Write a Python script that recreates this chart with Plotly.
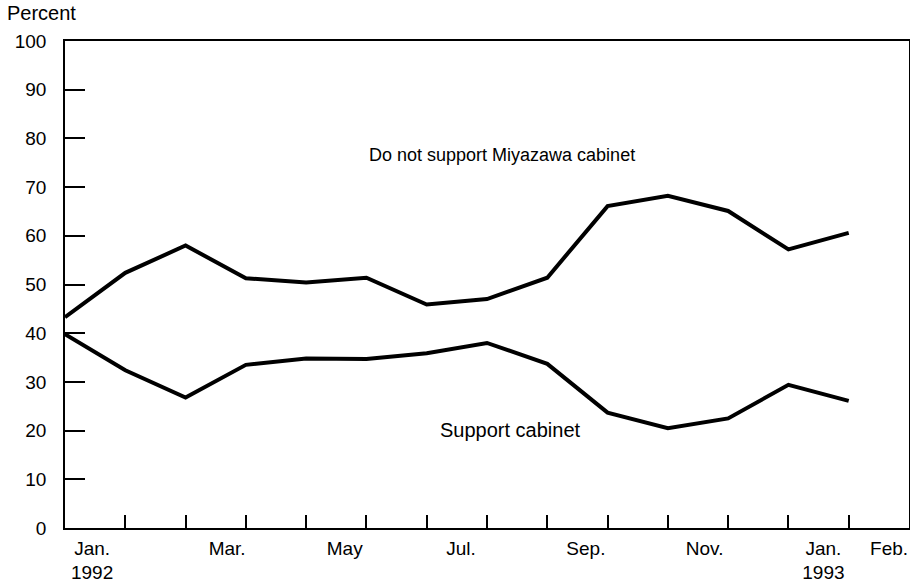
import plotly.graph_objects as go

months = list(range(14))  # Jan 1992 .. Feb 1993
do_not_support = [43.3, 52.4, 58.0, 51.3, 50.4, 51.4, 45.9, 47.0, 51.4, 66.1, 68.2, 65.1, 57.2, 60.6]
support = [39.8, 32.4, 26.8, 33.5, 34.8, 34.7, 35.9, 38.0, 33.7, 23.7, 20.5, 22.5, 29.4, 26.1]

label_months = [0, 2, 4, 6, 8, 10, 12, 13]
label_text = ["Jan.<br>1992", "Mar.", "May", "Jul.", "Sep.", "Nov.", "Jan.<br>1993", "Feb."]
label_offset = [0.45, 0.69, 0.64, 0.57, 0.64, 0.61, 0.58, 0.67]

y_ticks = [0, 10, 20, 30, 40, 50, 60, 70, 80, 90, 100]

font = "Liberation Sans, Arial, Helvetica, sans-serif"

fig = go.Figure()
fig.add_trace(go.Scatter(x=months, y=do_not_support, mode="lines",
                         line=dict(color="black", width=4), showlegend=False))
fig.add_trace(go.Scatter(x=months, y=support, mode="lines",
                         line=dict(color="black", width=4), showlegend=False))

fig.update_layout(
    width=910, height=584,
    margin=dict(l=65, r=1, t=41, b=56),
    paper_bgcolor="white", plot_bgcolor="white",
    font=dict(family=font, size=20, color="black"),
    xaxis=dict(range=[0, 14], showgrid=False, zeroline=False, automargin=False,
               showline=True, linecolor="black", linewidth=1.5, mirror=True,
               tickmode="array",
               tickvals=[m + o for m, o in zip(label_months, label_offset)],
               ticktext=label_text, ticks="", ticklabelstandoff=2,
               minor=dict(tickmode="array", tickvals=months[1:], ticks="inside",
                          ticklen=13, tickwidth=1.5, tickcolor="black", showgrid=False),
               tickfont=dict(size=19)),
    yaxis=dict(range=[0, 100], showgrid=False, zeroline=False, automargin=False,
               showline=True, linecolor="black", linewidth=1.5, mirror=True,
               tickmode="array", tickvals=y_ticks,
               ticks="inside", ticklen=20, tickwidth=1.5, tickcolor="black",
               ticklabelstandoff=13, tickfont=dict(size=19)),
    annotations=[
        dict(text="Percent", xref="paper", yref="paper", x=-65/844, y=1 + 27.5/487,
             xanchor="left", yanchor="middle", showarrow=False, xshift=5,
             font=dict(size=20)),
        dict(text="Do not support Miyazawa cabinet", x=7.25, y=76.6,
             showarrow=False, xanchor="center", yanchor="middle", font=dict(size=18)),
        dict(text="Support cabinet", x=7.39, y=20.1,
             showarrow=False, xanchor="center", yanchor="middle", font=dict(size=20)),
    ],
)

fig.write_html("out.html",
               config={"displayModeBar": False},
               post_script="document.body.style.margin='0';document.body.style.overflow='hidden';")
